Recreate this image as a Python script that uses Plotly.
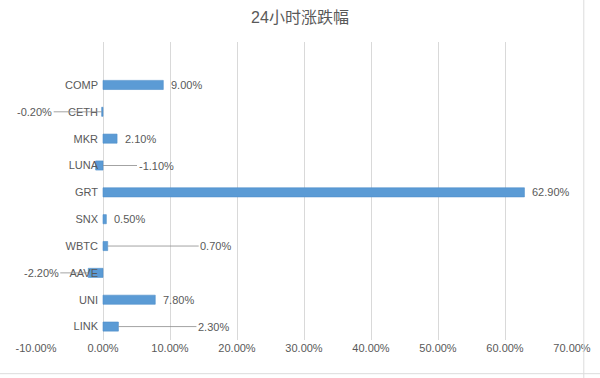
import plotly.graph_objects as go

# ---- data ----
coins = ["COMP", "CETH", "MKR", "LUNA", "GRT", "SNX", "WBTC", "AAVE", "UNI", "LINK"]
change_pct = [9.00, -0.20, 2.10, -1.10, 62.90, 0.50, 0.70, -2.20, 7.80, 2.30]
x_ticks = [-10, 0, 10, 20, 30, 40, 50, 60, 70]
title_text = "24小时涨跌幅"

# ---- label styling (pixel offsets for labels that use leader lines) ----
leader_offsets = {"CETH": -67, "LUNA": 53, "WBTC": 108, "AAVE": -47, "LINK": 95}

FONT = "Liberation Sans, Arial, Noto Sans CJK SC, sans-serif"
TXT = "#595959"
BAR = "#5B9BD5"
GRID = "#d9d9d9"

fig = go.Figure()
fig.add_trace(go.Bar(
    x=change_pct, y=coins, orientation="h",
    marker=dict(color=BAR, line=dict(color="#4f8fca", width=0.6)),
    hoverinfo="x+y",
))

annotations = []
for c, v in zip(coins, change_pct):
    label = f"{v:.2f}%"
    if c in leader_offsets:
        off = leader_offsets[c]
        target = max(v, 0) if off > 0 else min(v, 0)
        annotations.append(dict(
            x=target, y=c, xref="x", yref="y", text=label,
            showarrow=True, arrowhead=0, arrowwidth=0.8, arrowcolor="#8c8c8c",
            ax=off, ay=0, axref="pixel", ayref="pixel",
            font=dict(family=FONT, size=11, color=TXT),
        ))
    else:
        annotations.append(dict(
            x=v, y=c, xref="x", yref="y", text=label, showarrow=False,
            xanchor="left", xshift=6,
            font=dict(family=FONT, size=11, color=TXT),
        ))

fig.update_layout(
    width=600, height=378,
    margin=dict(l=36, r=28, t=42, b=38, autoexpand=False),
    paper_bgcolor="white", plot_bgcolor="white",
    bargap=0.66,
    showlegend=False,
    title=dict(text=title_text, x=0.5, xanchor="center", y=0.955, yanchor="middle",
               font=dict(family=FONT, size=16, color=TXT)),
    font=dict(family=FONT, size=11, color=TXT),
    annotations=annotations,
    shapes=[
        dict(type="line", xref="paper", yref="paper", x0=1.022, x1=1.022, y0=-0.13, y1=1.15,
             line=dict(color="#dcdcdc", width=1)),
        dict(type="line", xref="paper", yref="paper", x0=-0.07, x1=1.06, y0=-0.113, y1=-0.113,
             line=dict(color="#dcdcdc", width=1)),
    ],
)
fig.update_xaxes(
    range=[x_ticks[0], x_ticks[-1]], tickvals=x_ticks,
    ticktext=[f"{t:.2f}%" for t in x_ticks],
    showgrid=True, gridcolor=GRID, gridwidth=1, zeroline=False,
    showline=False, ticks="", tickfont=dict(family=FONT, size=11, color=TXT),
    automargin=False, fixedrange=True,
)
fig.update_yaxes(
    type="category", categoryorder="array", categoryarray=coins,
    range=[len(coins) - 0.5, -1.6],
    anchor="free", position=(0 - x_ticks[0]) / (x_ticks[-1] - x_ticks[0]),
    showgrid=False, zeroline=False, showline=False, ticks="",
    ticklabelstandoff=5,
    tickfont=dict(family=FONT, size=11, color=TXT),
    automargin=False, fixedrange=True,
)

fig.write_html(
    "out.html",
    config={"displayModeBar": False},
    post_script="document.body.style.margin='0';document.body.style.overflow='hidden';",
)
